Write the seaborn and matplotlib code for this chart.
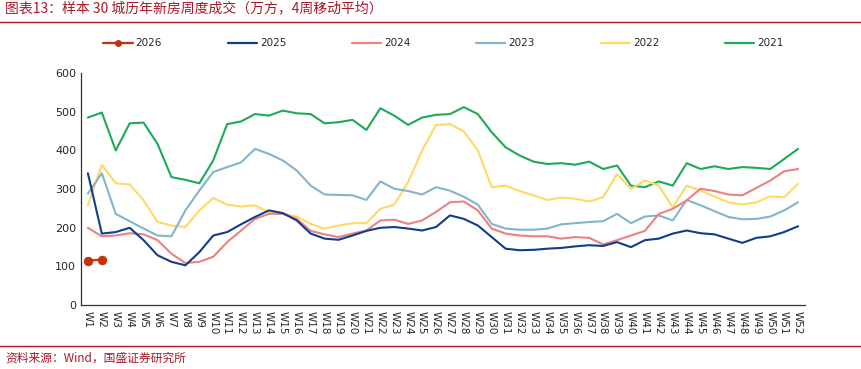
import numpy as np
import pandas as pd
import matplotlib
matplotlib.use('Agg')
import matplotlib.pyplot as plt
import seaborn as sns
from matplotlib.lines import Line2D

weeks = ['W' + str(i) for i in range(1, 53)]

y2026 = [115, 118]
y2025 = [341, 185, 189, 200, 168, 129, 112, 103, 137, 180,
         189, 209, 228, 245, 238, 219, 185, 172, 169, 180,
         192, 200, 202, 198, 193, 202, 232, 223, 206, 176,
         146, 142, 143, 146, 148, 152, 155, 153, 163, 150,
         168, 172, 185, 193, 186, 183, 172, 161, 174, 178,
         189, 204]
y2024 = [200, 178, 180, 186, 183, 168, 133, 109, 112, 125,
         163, 193, 223, 236, 236, 223, 192, 183, 176, 185,
         193, 219, 221, 210, 219, 241, 266, 268, 245, 198,
         185, 180, 178, 178, 172, 176, 174, 157, 168, 180,
         192, 236, 249, 271, 301, 295, 286, 284, 303, 322,
         346, 352]
y2023 = [288, 341, 236, 217, 198, 180, 178, 245, 296, 344,
         357, 369, 404, 391, 374, 348, 309, 286, 285, 284,
         272, 320, 301, 295, 286, 305, 296, 280, 260, 210,
         198, 195, 195, 198, 209, 212, 215, 217, 236, 212,
         229, 232, 219, 272, 258, 243, 228, 222, 223, 229,
         245, 266]
y2022 = [258, 363, 315, 312, 271, 215, 206, 202, 245, 277,
         260, 255, 258, 240, 236, 229, 210, 198, 206, 212,
         212, 249, 260, 318, 400, 466, 468, 449, 400, 305,
         309, 295, 284, 272, 278, 275, 268, 279, 339, 301,
         322, 309, 253, 309, 296, 281, 266, 260, 266, 281,
         279, 314]
y2021 = [485, 498, 400, 470, 472, 417, 331, 324, 315, 374,
         468, 475, 494, 490, 503, 496, 494, 470, 473, 479,
         453, 509, 490, 466, 485, 492, 494, 512, 494, 447,
         408, 387, 371, 365, 367, 363, 371, 352, 361, 309,
         305, 320, 309, 367, 352, 359, 352, 357, 355, 352,
         378, 404]

years = ['2021', '2022', '2023', '2024', '2025', '2026']
series = [y2021, y2022, y2023, y2024, y2025, y2026]
colors = {'2026': '#C4320C', '2025': '#123C8C', '2024': '#EE8080',
          '2023': '#84B4CB', '2022': '#FFD966', '2021': '#1DAA58'}

rows = []
for yr, vals in zip(years, series):
    for w, v in zip(weeks, vals):
        rows.append({'week': w, 'year': yr, 'value': v})
df = pd.DataFrame(rows)

sns.set_style('white')
plt.rcParams['font.family'] = ['DejaVu Sans', 'Noto Sans CJK SC']
cjk = ['Noto Sans CJK SC', 'DejaVu Sans']
red = '#A8192B'

fig = plt.figure(figsize=(8.61, 3.69), dpi=100)
ax = fig.add_axes([0.094, 0.173, 0.841, 0.629])

for yr in years:
    d = df[df['year'] == yr]
    if yr == '2026':
        sns.lineplot(data=d, x='week', y='value', color=colors[yr], lw=1.6,
                     marker='o', markersize=6, markeredgecolor=colors[yr],
                     sort=False, ax=ax, legend=False)
    else:
        sns.lineplot(data=d, x='week', y='value', color=colors[yr], lw=1.5,
                     sort=False, ax=ax, legend=False)

ax.set_xlim(-0.5, 51.5)
ax.set_ylim(0, 600)
ax.set_yticks(range(0, 601, 100))
ax.set_xticks(range(52))
ax.set_xticklabels(weeks, rotation=-90, fontsize=7.5)
ax.set_xticks(np.arange(-0.5, 52, 1), minor=True)
ax.tick_params(axis='x', which='major', length=0, pad=4)
ax.tick_params(axis='x', which='minor', length=3, direction='in', color='#333333')
ax.tick_params(axis='y', length=3, direction='in', labelsize=8, color='#333333')
ax.set_xlabel('')
ax.set_ylabel('')
for s in ['top', 'right']:
    ax.spines[s].set_visible(False)
for s in ['left', 'bottom']:
    ax.spines[s].set_color('#333333')
    ax.spines[s].set_linewidth(0.9)

handles = []
for yr in ['2026', '2025', '2024', '2023', '2022', '2021']:
    if yr == '2026':
        handles.append(Line2D([], [], color=colors[yr], lw=1.6, marker='o', markersize=4))
    else:
        handles.append(Line2D([], [], color=colors[yr], lw=1.6))
fig.legend(handles, ['2026', '2025', '2024', '2023', '2022', '2021'],
           loc='center', bbox_to_anchor=(0.515, 0.883), ncol=6, frameon=False,
           fontsize=7.5, handlelength=2.8, handletextpad=0.3, columnspacing=6.3)

fig.text(0.006, 0.978, '图表13：样本 30 城历年新房周度成交（万方，4周移动平均）',
         color=red, fontsize=10, family=cjk, va='center', ha='left')
fig.add_artist(Line2D([0, 1], [0.94, 0.94], color=red, lw=1.0, transform=fig.transFigure))
fig.add_artist(Line2D([0, 1], [0.062, 0.062], color=red, lw=1.0, transform=fig.transFigure))
fig.text(0.006, 0.030, '资料来源：Wind，国盛证券研究所',
         color=red, fontsize=8.5, family=cjk, va='center', ha='left')

fig.savefig('out.png', dpi=100)
